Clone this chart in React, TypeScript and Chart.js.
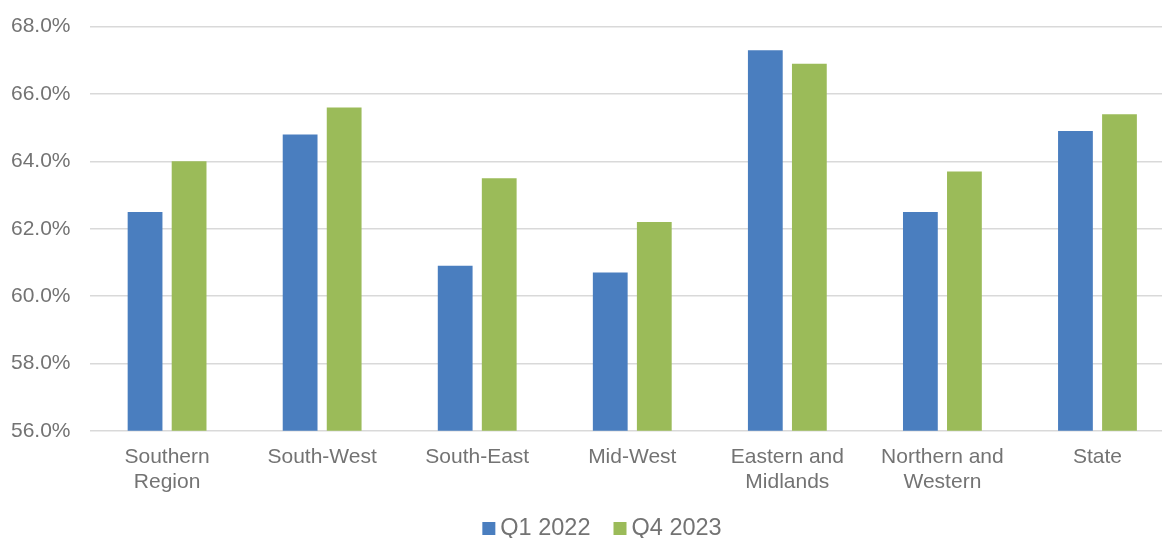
import React, { useEffect, useRef } from "react";
import { Chart, registerables } from "chart.js";

Chart.register(...registerables);

// Regions shown along the x axis (two-line labels where they wrap)
const regions: (string | string[])[] = [
  ["Southern", "Region"],
  "South-West",
  "South-East",
  "Mid-West",
  ["Eastern and", "Midlands"],
  ["Northern and", "Western"],
  "State",
];

// Rates in percent for each period
const q1_2022: number[] = [62.5, 64.8, 60.9, 60.7, 67.3, 62.5, 64.9];
const q4_2023: number[] = [64.0, 65.6, 63.5, 62.2, 66.9, 63.7, 65.4];

const seriesLabels: string[] = ["Q1 2022", "Q4 2023"];
const seriesColors: string[] = ["#4A7EBF", "#9BBB59"];

const axisMin = 56;
const axisMax = 68;
const axisStep = 2;

const TEXT_COLOR = "#737373";
const FONT_FAMILY = "'Liberation Sans', Arial, sans-serif";

// Legend drawn centred under the axis labels: small square, then the label
const bottomLegend = {
  id: "bottomLegend",
  afterDraw(chart: Chart) {
    const ctx = chart.ctx;
    const fontSize = 23.5;
    const box = 13;
    const boxGap = 5;
    const itemGap = 23;
    ctx.save();
    ctx.font = `${fontSize}px ${FONT_FAMILY}`;
    ctx.textBaseline = "middle";
    ctx.textAlign = "left";
    const items = chart.data.datasets.map((ds) => ({
      text: String(ds.label),
      color: String(ds.backgroundColor),
      w: ctx.measureText(String(ds.label)).width,
    }));
    const total =
      items.reduce((s, it) => s + box + boxGap + it.w, 0) +
      itemGap * (items.length - 1);
    let x = chart.width / 2 - total / 2;
    const cy = chart.height - 9.5;
    for (const it of items) {
      ctx.fillStyle = it.color;
      ctx.fillRect(x, cy - box / 2, box, box);
      x += box + boxGap;
      ctx.fillStyle = TEXT_COLOR;
      ctx.fillText(it.text, x, cy);
      x += it.w + itemGap;
    }
    ctx.restore();
  },
};

export default function App() {
  const canvasRef = useRef<HTMLCanvasElement | null>(null);

  useEffect(() => {
    if (!canvasRef.current) return;
    const chart = new Chart(canvasRef.current, {
      type: "bar",
      data: {
        labels: regions,
        datasets: [
          {
            label: seriesLabels[0],
            data: q1_2022,
            backgroundColor: seriesColors[0],
            categoryPercentage: 0.568,
            barPercentage: 0.79,
          },
          {
            label: seriesLabels[1],
            data: q4_2023,
            backgroundColor: seriesColors[1],
            categoryPercentage: 0.568,
            barPercentage: 0.79,
          },
        ],
      },
      options: {
        responsive: false,
        animation: false,
        layout: {
          padding: { left: -8, right: 29, top: 16, bottom: 38 },
        },
        plugins: {
          legend: { display: false },
          tooltip: { enabled: false },
        },
        scales: {
          x: {
            grid: { display: false },
            border: { display: false },
            ticks: {
              color: TEXT_COLOR,
              font: { family: FONT_FAMILY, size: 21, lineHeight: 1.17 },
              padding: 6,
              maxRotation: 0,
              autoSkip: false,
            },
          },
          y: {
            min: axisMin,
            max: axisMax,
            border: { display: false },
            grid: {
              color: "#d9d9d9",
              lineWidth: 1.6,
              drawTicks: false,
            },
            ticks: {
              stepSize: axisStep,
              color: TEXT_COLOR,
              padding: 19,
              font: { family: FONT_FAMILY, size: 21 },
              callback: (v) => Number(v).toFixed(1) + "%",
            },
          },
        },
      },
      plugins: [bottomLegend],
    });
    return () => chart.destroy();
  }, []);

  return (
    <div
      style={{
        position: "fixed",
        left: 0,
        top: 0,
        width: 1162,
        height: 538,
        overflow: "hidden",
        background: "#ffffff",
      }}
    >
      <canvas
        ref={canvasRef}
        width={1204}
        height={543}
        style={{ display: "block", marginTop: -5 }}
      />
    </div>
  );
}
